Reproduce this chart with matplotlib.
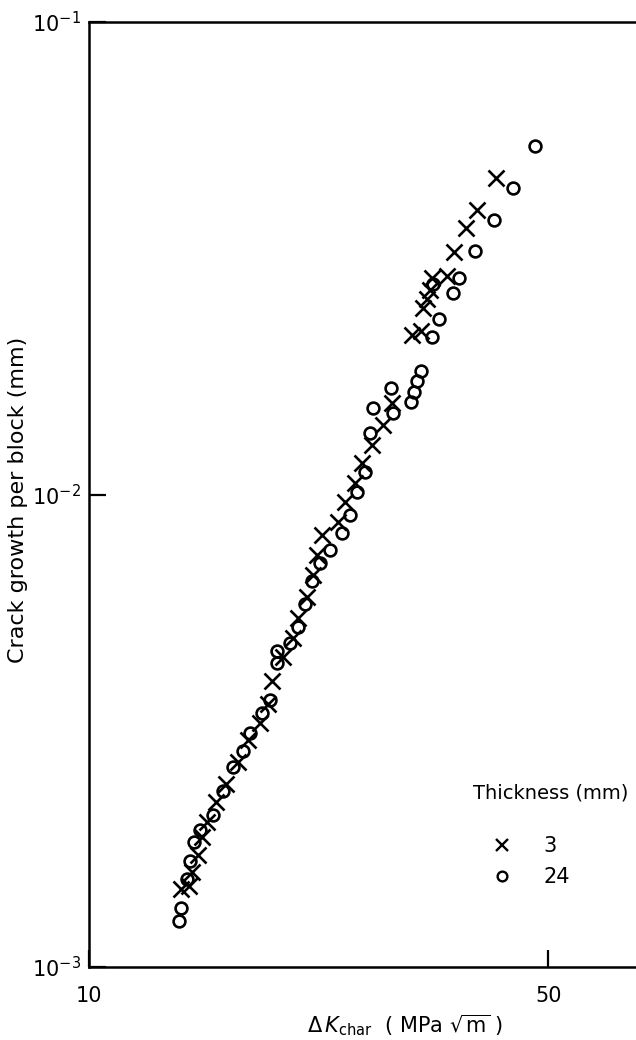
import matplotlib
matplotlib.use("Agg")
import matplotlib.pyplot as plt
from matplotlib.lines import Line2D

# Thickness 3 mm  (crosses)
dk_3 = [13.80, 14.20, 14.35, 14.65, 14.86, 15.12, 15.61, 16.16, 16.86, 17.46,
        18.21, 18.73, 18.99, 19.74, 20.44, 20.81, 21.47, 21.93, 22.23, 22.62,
        23.93, 24.52, 25.40, 26.03, 26.96, 28.02, 28.92, 31.01, 32.01, 32.24,
        32.70, 33.04, 33.28, 35.07, 35.94, 37.49, 38.96, 41.65]
da_3 = [1.463e-3, 1.484e-3, 1.589e-3, 1.726e-3, 1.884e-3, 2.027e-3, 2.235e-3,
        2.439e-3, 2.716e-3, 3.023e-3, 3.285e-3, 3.603e-3, 4.030e-3, 4.530e-3,
        4.970e-3, 5.479e-3, 6.069e-3, 6.753e-3, 7.447e-3, 8.209e-3, 8.748e-3,
        9.641e-3, 1.057e-2, 1.166e-2, 1.273e-2, 1.403e-2, 1.562e-2, 2.176e-2,
        2.218e-2, 2.481e-2, 2.593e-2, 2.709e-2, 2.872e-2, 2.900e-2, 3.261e-2,
        3.664e-2, 4.001e-2, 4.676e-2]

# Thickness 24 mm  (circles)
dk_24 = [13.71, 13.80, 14.10, 14.25, 14.44, 14.76, 15.44, 16.00, 16.57, 17.16,
         17.58, 18.34, 18.86, 19.32, 19.32, 20.22, 20.81, 21.32, 21.85, 22.47,
         23.27, 24.27, 24.96, 25.58, 26.31, 26.77, 27.06, 28.82, 29.02, 30.91,
         31.24, 31.57, 32.01, 33.28, 34.10, 33.39, 35.81, 36.58, 38.68, 41.35,
         44.20, 47.74]
da_24 = [1.251e-3, 1.333e-3, 1.536e-3, 1.676e-3, 1.839e-3, 1.950e-3, 2.097e-3,
         2.358e-3, 2.650e-3, 2.865e-3, 3.128e-3, 3.448e-3, 3.673e-3, 4.399e-3,
         4.664e-3, 4.850e-3, 5.243e-3, 5.866e-3, 6.560e-3, 7.161e-3, 7.628e-3,
         8.289e-3, 9.049e-3, 1.012e-2, 1.116e-2, 1.350e-2, 1.525e-2, 1.680e-2,
         1.488e-2, 1.570e-2, 1.648e-2, 1.739e-2, 1.826e-2, 2.154e-2, 2.351e-2,
         2.790e-2, 2.670e-2, 2.872e-2, 3.276e-2, 3.811e-2, 4.453e-2, 5.466e-2]

x_ticks = [10, 50]
x_ticklabels = ["10", "50"]
y_ticks = [1e-3, 1e-2, 1e-1]
y_ticklabels = [r"$10^{-3}$", r"$10^{-2}$", r"$10^{-1}$"]
legend_labels = ["3", "24"]

plt.rcParams['font.family'] = ['DejaVu Sans']
plt.rcParams['mathtext.fontset'] = 'dejavusans'

fig = plt.figure(figsize=(6.36, 10.4), dpi=100)
ax = fig.add_axes([89 / 636, 73 / 1040, 547 / 636, 945 / 1040])

ax.set_xscale('log')
ax.set_yscale('log')
ax.set_xlim(10, 68.0)
ax.set_ylim(1e-3, 1e-1)

ax.plot(dk_3, da_3, linestyle='none', marker='x', markersize=11,
        markeredgewidth=1.9, color='black')
ax.plot(dk_24, da_24, linestyle='none', marker='o', markersize=8.5,
        markeredgewidth=1.9, markerfacecolor='none', color='black')

ax.spines['right'].set_visible(False)
for s in ['left', 'bottom', 'top']:
    ax.spines[s].set_linewidth(1.8)

ax.set_xticks(x_ticks)
ax.set_xticklabels(x_ticklabels)
ax.set_yticks(y_ticks)
ax.set_yticklabels(y_ticklabels)
ax.minorticks_off()
ax.tick_params(axis='both', direction='in', length=12, width=1.6,
               labelsize=15)
ax.tick_params(axis='x', pad=14)
ax.tick_params(axis='y', pad=6)

fig.text(18 / 636, 1 - 500 / 1040, "Crack growth per block (mm)", rotation=90,
         ha='center', va='center', fontsize=16)
fig.text(405 / 636, 1 - 1025 / 1040,
         r"$\Delta\,K_{\mathrm{char}}$  ( MPa $\sqrt{\mathrm{m}}$ )",
         ha='center', va='center', fontsize=15)

# legend: title as text, entries as legend
fig.text(473 / 636, 1 - 793 / 1040, "Thickness (mm)", ha='left',
         va='center', fontsize=14)
handles = [
    Line2D([], [], linestyle='none', marker='x', markersize=9,
           markeredgewidth=1.7, color='black'),
    Line2D([], [], linestyle='none', marker='o', markersize=7,
           markeredgewidth=1.7, markerfacecolor='none', color='black'),
]
ax.legend(handles, legend_labels, frameon=False,
          loc='upper left', bbox_to_anchor=(481 / 636, 1 - 836 / 1040),
          bbox_transform=fig.transFigure, fontsize=15,
          handlelength=2.0, handletextpad=1.0, labelspacing=0.55,
          borderpad=0, borderaxespad=0)

fig.savefig("out.png", dpi=100)
